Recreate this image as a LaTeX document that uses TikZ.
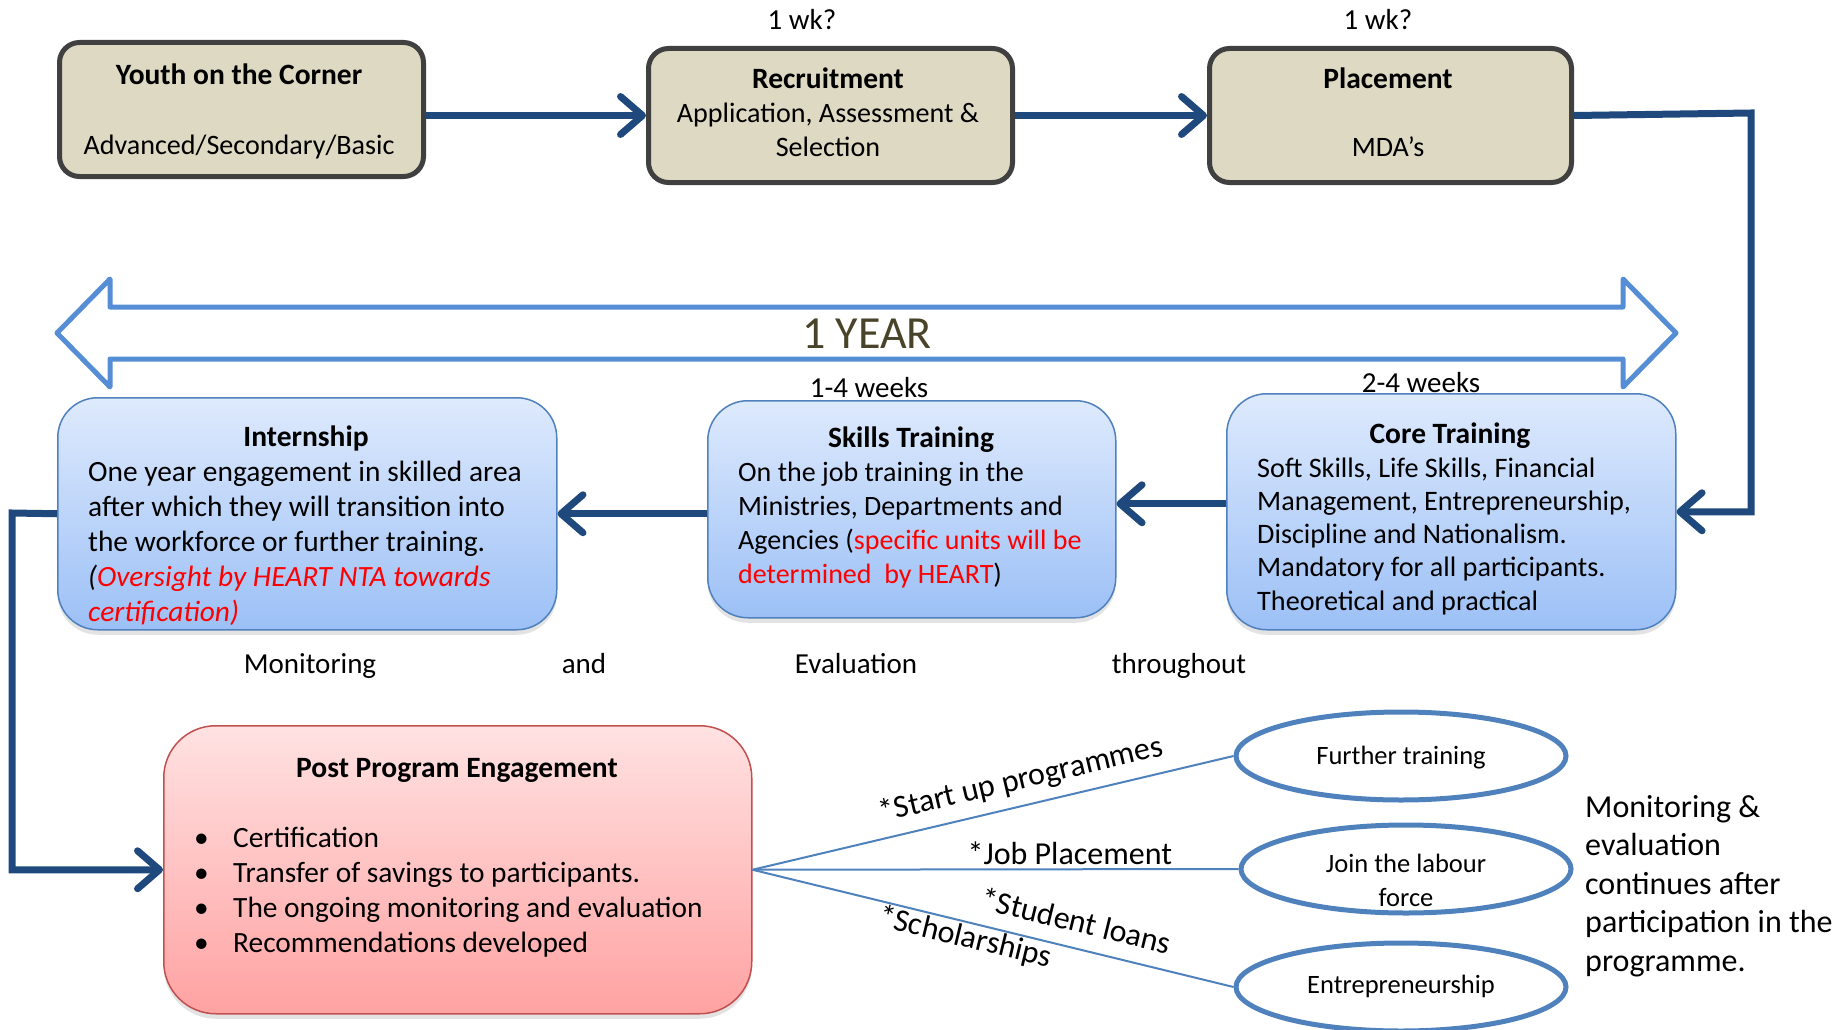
\documentclass[tikz,border=0pt]{standalone}
\usepackage{fontspec}
\setmainfont{Carlito}
\usetikzlibrary{arrows.meta,shapes.geometric,shadows,calc}
\definecolor{tanfill}{RGB}{221,217,195}
\definecolor{tanline}{RGB}{64,64,64}
\definecolor{navy}{RGB}{31,73,125}
\definecolor{yrblue}{RGB}{85,142,213}
\definecolor{ebl}{RGB}{79,129,189}
\definecolor{btop}{RGB}{222,234,253}
\definecolor{bbot}{RGB}{156,192,246}
\definecolor{rtop}{RGB}{255,226,226}
\definecolor{rbot}{RGB}{255,162,162}
\definecolor{rline}{RGB}{192,80,77}
\definecolor{olive}{RGB}{73,68,41}
\newcommand\fsz[2]{\fontsize{#1}{#2}\selectfont}
\newcommand\lns[2]{\begin{tabular}[t]{@{}#1@{}}#2\end{tabular}}
\begin{document}
\begin{tikzpicture}[x=1pt,y=-1pt,
  tanbox/.style={draw=tanline, line width=5pt, fill=tanfill, rounded corners=20pt, anchor=north west, inner sep=0pt},
  softshadow/.style={drop shadow={shadow xshift=0pt, shadow yshift=-5pt, opacity=0.18, fill=black!60}},
  bluebox/.style={draw=ebl, line width=1.5pt, top color=btop, bottom color=bbot, rounded corners=40pt, anchor=north west, inner sep=0pt, softshadow},
  redbox/.style={draw=rline, line width=1.5pt, top color=rtop, bottom color=rbot, rounded corners=52pt, anchor=north west, inner sep=0pt, softshadow},
  oval/.style={ellipse, draw=ebl, line width=5pt, fill=white, inner sep=0pt},
  txt/.style={inner sep=0pt, font=\fsz{29}{35}},
  ttxt/.style={inner sep=0pt, font=\fsz{28.1}{34}},
  btxt/.style={inner sep=0pt, font=\bfseries\fsz{29.5}{35}},
  otxt/.style={inner sep=0pt, font=\fsz{26.5}{34}},
  lbl/.style={inner sep=2pt, font=\fsz{32}{36}},
  conn/.style={draw=navy, line width=7pt, -{Straight Barb[length=22pt,width=38pt,round]}},
  fan/.style={draw=ebl, line width=2pt}
]
\useasboundingbox (0,0) rectangle (1839,1030);

% ---------- top row ----------
\node[tanbox, minimum width=364pt, minimum height=134pt] (youth) at (57,40) {};
\node[tanbox, minimum width=364pt, minimum height=134pt] (recr) at (646,46) {};
\node[tanbox, minimum width=362pt, minimum height=134pt] (plac) at (1207,46) {};

\node[btxt, anchor=base] (youthT) at (239,85) {Youth on the Corner};
\node[ttxt, anchor=base] (youthS) at (239,154) {Advanced/Secondary/Basic};
\node[btxt, anchor=base] (recrT) at (828,89) {Recruitment};
\node[ttxt, anchor=base] (recrS) at (828,123) {\lns{c}{Application, Assessment \&\\Selection}};
\node[btxt, anchor=base] (placT) at (1388,89) {Placement};
\node[ttxt, anchor=base] (placS) at (1388,157) {MDA’s};
\node[txt, anchor=base] (wk1) at (802,30) {1 wk?};
\node[txt, anchor=base] (wk2) at (1378,30) {1 wk?};

% ---------- 1 year arrow ----------
\draw[line width=5pt, draw=yrblue, fill=white, line join=round]
  (57,333) -- (110,279) -- (110,307) -- (1623,307) -- (1623,279) -- (1676,333)
  -- (1623,387) -- (1623,359) -- (110,359) -- (110,387) -- cycle;
\node[inner sep=0pt, font=\fsz{46}{50}, text=olive] (year) at (867,334) {1 YEAR};
\node[txt, anchor=base] (w14) at (869,397) {1-4 weeks};
\node[txt, anchor=base] (w24) at (1421,392) {2-4 weeks};

% ---------- middle row ----------
\node[bluebox, minimum width=499pt, minimum height=232pt] (intern) at (57,397) {};
\node[bluebox, minimum width=408pt, minimum height=217pt] (skills) at (707,400) {};
\node[bluebox, minimum width=449pt, minimum height=236pt] (core) at (1226,393) {};

\node[btxt, anchor=base] (internT) at (306,446) {Internship};
\node[txt, anchor=base west, font=\fsz{29.4}{35}] (internB) at (88,481) {\lns{l}{One year engagement in skilled area\\after which they will transition into\\the workforce or further training.\\\textit{(\textcolor{red}{Oversight by HEART NTA towards}}\\\textit{\textcolor{red}{certification)}}}};

\node[btxt, anchor=base] (skillsT) at (911,447) {Skills Training};
\node[txt, anchor=base west, font=\fsz{28}{34}] (skillsB) at (738,481) {\lns{l}{On the job training in the\\Ministries, Departments and\\Agencies (\textcolor{red}{specific units will be}\\\textcolor{red}{determined\ \ by HEART})}};

\node[btxt, anchor=base] (coreT) at (1450,443) {Core Training};
\node[txt, anchor=base west, font=\fsz{28.2}{33.3}] (coreB) at (1257,477) {\lns{l}{Soft Skills, Life Skills, Financial\\Management, Entrepreneurship,\\Discipline and Nationalism.\\Mandatory for all participants.\\Theoretical and practical}};

% ---------- monitoring row ----------
\node[txt, anchor=base] (mon1) at (310,673) {Monitoring};
\node[txt, anchor=base] (mon2) at (584,673) {and};
\node[txt, anchor=base] (mon3) at (856,673) {Evaluation};
\node[txt, anchor=base] (mon4) at (1179,673) {throughout};

% ---------- post program ----------
\node[redbox, minimum width=588pt, minimum height=288pt] (post) at (163,725) {};
\node[btxt, anchor=base] (postT) at (457,777) {Post Program Engagement};
\node[txt, anchor=base west, font=\fsz{29.4}{35}] (postB) at (194,847) {\lns{l}{\makebox[39pt][l]{\textbullet}Certification\\\makebox[39pt][l]{\textbullet}Transfer of savings to participants.\\\makebox[39pt][l]{\textbullet}The ongoing monitoring and evaluation\\\makebox[39pt][l]{\textbullet}Recommendations developed}};

% ---------- connectors ----------
\draw[conn] (youth.east |- recr.west) -- (recr.west);
\draw[conn] (recr.east) -- (plac.west);
\coordinate (rt) at (1751,113);
\draw[conn] (plac.east) -- (rt) -- (rt |- core.east) -- (core.east);
\draw[conn] ([yshift=8pt]core.west) coordinate (cw) -- (skills.east |- cw);
\draw[conn] (skills.west |- intern.east) -- (intern.east);
\coordinate (lt) at (12,513);
\draw[conn] (intern.west) -- (lt) -- (lt |- post.west) -- (post.west);

% ---------- outcomes ----------
\coordinate (e1c) at (1401,756);
\coordinate (e2c) at (1406,869);
\coordinate (e3c) at (1401,987);
\node[oval, minimum width=330pt, minimum height=88pt] (e1) at (e1c) {};
\node[oval, minimum width=330pt, minimum height=88pt] (e2) at (e2c) {};
\node[oval, minimum width=330pt, minimum height=88pt] (e3) at (e3c) {};

\draw[fan] (post.east) -- (e1.west) node[lbl, pos=0.57, sloped, above=8pt] (l1) {*Start up programmes};
\draw[fan] (post.east) -- (e2.west) node[lbl, pos=0.653, above=2pt] (l2) {*Job Placement};
\draw[fan] (post.east) -- (e3.west)
  node[lbl, pos=0.66, sloped, above=15pt, inner sep=0pt] (l3) {*Student loans}
  node[lbl, pos=0.45, sloped, below=1pt, inner sep=0pt] (l4) {*Scholarships};

\node[otxt, anchor=base] (e1t) at (1401,764) {Further training};
\node[otxt, anchor=base] (e2t) at (1406,872) {\lns{c}{Join the labour\\force}};
\node[otxt, anchor=base] (e3t) at (1401,993) {Entrepreneurship};

\node[txt, anchor=base west, font=\fsz{32}{38.5}] (mtext) at (1585,817) {\lns{l}{Monitoring \&\\evaluation\\continues after\\participation in the\\programme.}};
\end{tikzpicture}
\end{document}
